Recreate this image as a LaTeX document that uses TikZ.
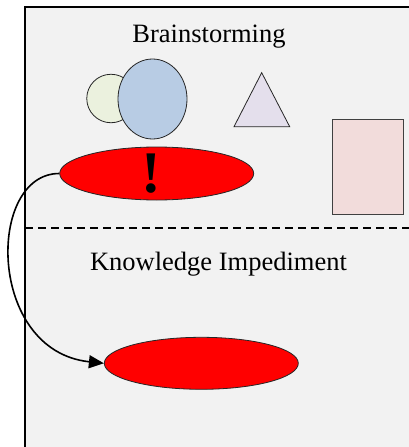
\documentclass[tikz,border=0pt]{standalone}
\usepackage{fontspec}
\setmainfont{Liberation Serif}
\usepackage{tikz}
\usetikzlibrary{arrows.meta,shapes.geometric,positioning}

\definecolor{paper}{HTML}{F2F2F2}
\definecolor{sage}{HTML}{EBF1DE}
\definecolor{sky}{HTML}{B8CCE4}
\definecolor{lilac}{HTML}{E4DFEC}
\definecolor{blush}{HTML}{F2DCDB}

\begin{document}
\begin{tikzpicture}[x=1pt,y=-1pt,>={Triangle[length=15pt,width=13pt]},
    label text/.style={font=\fontsize{26.5}{30}\selectfont,inner sep=0pt,anchor=base},
    blob/.style={ellipse,draw=black!85,line width=0.8pt,inner sep=0pt},
    issue/.style={blob,fill=red,minimum width=194pt,minimum height=53pt},
    flow/.style={->,line width=1.6pt}]
            \path[use as bounding box,fill=white] (0,0) rectangle (409,447);
            \clip (0,0) rectangle (409,447);

            % the two regions
            \draw[fill=paper,line width=2pt] (25,7) rectangle (440,480);
            \draw[line width=2pt,dash pattern=on 8pt off 5pt] (25,228) -- (409,228);

            \node   [label text]    (top)   at (209,42.7)   {Brainstorming};
            \node   [label text]    (bottom) at (218.5,270) {Knowledge Impediment};

            % brainstorming shapes
            \node   [blob,circle,fill=sage,minimum size=48.5pt]                  (c1) at (111,98.5) {};
            \node   [blob,fill=sky,minimum width=69pt,minimum height=80pt]     (c2) at (152.5,99) {};
            \draw   [fill=lilac,draw=black!85,line width=0.8pt] (261.7,72.7) -- (234,126.7) -- (289.7,126.7) -- cycle;
            \node   [draw=black!75,line width=0.8pt,fill=blush,minimum width=71.3pt,minimum height=95.4pt,inner sep=0pt] (box) at (367.7,167) {};

            \node   [issue]     (i1) at (156.7,173.5) {};
            \node   [issue,minimum height=52pt] (i2) at (201.3,363.3) {};
            \node   [font=\fontsize{59}{60}\bfseries\selectfont,inner sep=0pt,anchor=base] (bang) at (151.7,192.7) {!};

            \draw   [flow] (i1.west) to[out=180,in=174,out distance=73pt,in distance=118pt] (i2.west);
        \end{tikzpicture}
\end{document}
